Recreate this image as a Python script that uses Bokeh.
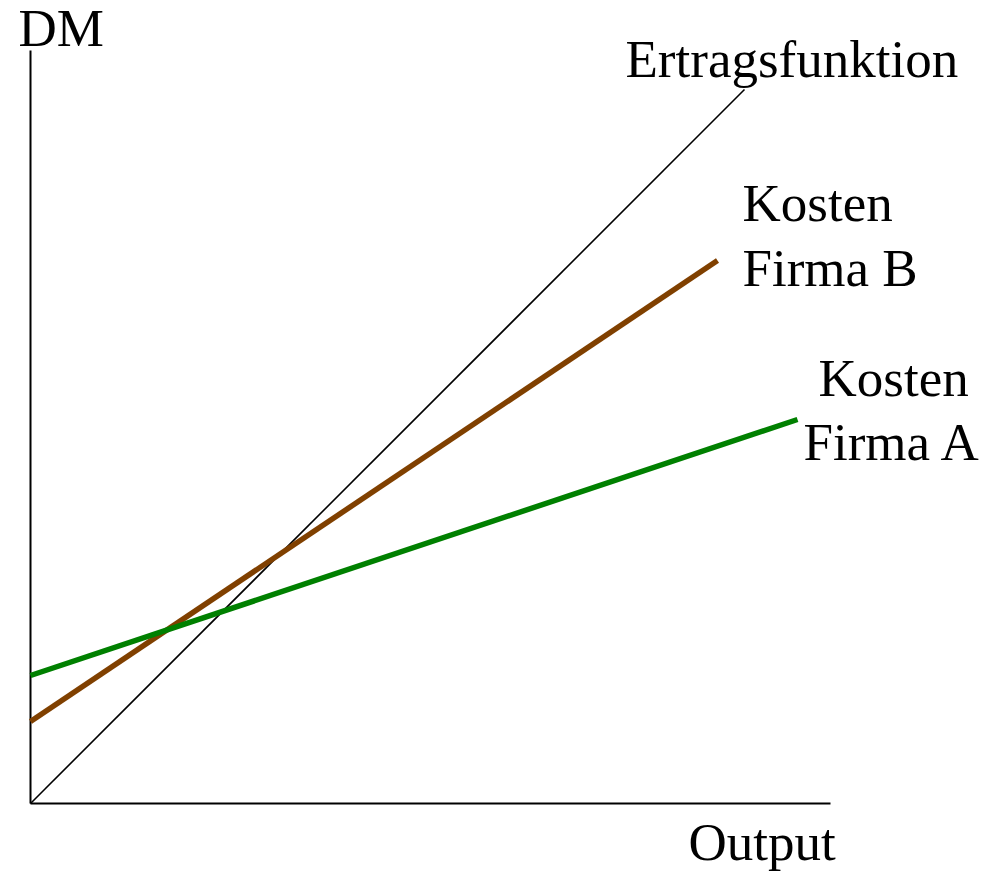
from bokeh.plotting import figure
from bokeh.models import Range1d
from bokeh.core.properties import value
from bokeh.embed import file_html
from bokeh.resources import INLINE

# Data (arbitrary units: Output on x, DM on y)
ertrag_x = [0.0, 7.14]
ertrag_y = [0.0, 7.14]
firma_b_x = [0.0, 6.87]
firma_b_y = [0.82, 5.43]
firma_a_x = [0.0, 7.67]
firma_a_y = [1.28, 3.84]
axis_x_end = 8.0
axis_y_end = 7.53

labels = ["Ertragsfunktion", "Kosten", "Firma B", "Kosten", "Firma A", "Output", "DM"]
label_x = [5.95, 7.12, 7.12, 7.88, 7.73, 6.58, -0.12]
label_y = [7.45, 6.01, 5.36, 4.26, 3.62, -0.38, 7.76]

W, H = 983, 874
p = figure(width=W, height=H, output_backend="svg", toolbar_location=None,
           x_range=Range1d(-0.30, -0.30 + W / 100), y_range=Range1d(8.03 - H / 100, 8.03),
           min_border=0, outline_line_color=None)
p.axis.visible = False
p.grid.visible = False
p.background_fill_color = "white"
p.border_fill_color = "white"

# axes
p.line([0, axis_x_end], [0, 0], line_color="black", line_width=2)
p.line([0, 0], [0, axis_y_end], line_color="black", line_width=2)

p.line(ertrag_x, ertrag_y, line_color="black", line_width=1.6)
p.line(firma_b_x, firma_b_y, line_color="#804000", line_width=5.5)
p.line(firma_a_x, firma_a_y, line_color="#008000", line_width=5.5)

p.text(x=label_x, y=label_y, text=labels, text_font=value("Liberation Serif"),
       text_font_size="53px", text_align="left", text_baseline="alphabetic",
       text_color="black")

open("out.html", "w").write(file_html(p, INLINE))
